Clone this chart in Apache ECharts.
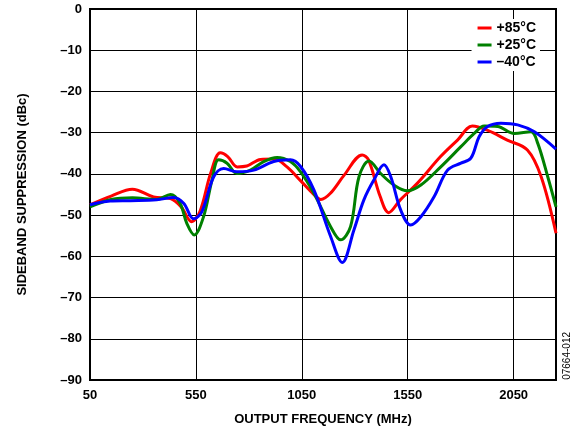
<!DOCTYPE html>
<html>
<head>
<meta charset="utf-8">
<script src="https://cdn.jsdelivr.net/npm/echarts@6/dist/echarts.min.js"></script>
<style>
  html, body { margin: 0; padding: 0; background: #fff; }
  #chart { width: 584px; height: 433px; }
</style>
</head>
<body>
<div id="chart"></div>
<script>
// 数据 (MHz, dBc)
const freq85 = [50, 150, 250, 350, 430, 480, 530, 570, 620, 665, 700, 745, 790, 855, 920, 980, 1045, 1105, 1140, 1185, 1250, 1335, 1365, 1420, 1460, 1515, 1595, 1705, 1785, 1855, 1925, 2020, 2115, 2180, 2250]
const val85 = [-47.5, -45.4, -43.7, -45.6, -46, -48, -51.6, -49, -39.8, -34.9, -35.8, -38.3, -38.1, -36.5, -36.4, -38.3, -41.7, -44.9, -46.2, -44.7, -40.3, -35.4, -36.6, -45.5, -49.4, -46.3, -42.3, -35.8, -31.8, -28.4, -29.4, -31.8, -34.2, -40.7, -54.4]

const freq25 = [50, 150, 250, 365, 430, 475, 507, 542, 586, 626, 657, 697, 744, 807, 870, 933, 996, 1044, 1107, 1186, 1233, 1280, 1320, 1367, 1422, 1485, 1548, 1612, 1706, 1801, 1864, 1911, 1974, 2053, 2132, 2164, 2211, 2250]
const val25 = [-48, -46.2, -45.8, -46.2, -45, -47.1, -52, -54.8, -50.4, -41.5, -36.6, -37.4, -39.9, -39.1, -37, -36, -37, -39.5, -44.7, -52.8, -56, -52.8, -40.7, -36.9, -39.9, -42.7, -44.1, -42.7, -38.3, -33.4, -30.2, -28.4, -28.5, -30.2, -29.8, -32.6, -40.7, -48]

const freqM40 = [50, 145, 240, 365, 444, 492, 539, 578, 634, 681, 744, 823, 917, 996, 1044, 1107, 1186, 1241, 1296, 1343, 1390, 1438, 1470, 1517, 1564, 1612, 1675, 1738, 1801, 1848, 1887, 1927, 1990, 2069, 2148, 2250]
const valM40 = [-47.5, -46.6, -46.5, -46.3, -45.7, -47.1, -50.9, -49.2, -40.7, -38.7, -39.5, -39.1, -37, -36.6, -38.2, -43.9, -55.2, -61.5, -53.6, -46.3, -41.5, -37.8, -40.7, -48.8, -52.4, -50.4, -45.5, -39.1, -37.4, -36.2, -31, -28.5, -27.7, -28.1, -29.8, -34]

const seriesNames = ['+85°C', '+25°C', '\u201340°C']
const seriesColors = ['#ff0000', '#008000', '#0000ff']

const pairs = (xs, ys) => xs.map((x, i) => [x, ys[i]])
const seriesData = [pairs(freq85, val85), pairs(freq25, val25), pairs(freqM40, valM40)]

const chart = echarts.init(document.getElementById('chart'))

const font = 'Liberation Sans, Arial, sans-serif'

let option = {
    animation: false,
    grid: {
        left: 90,
        right: 28,
        top: 9,
        bottom: 53,
        show: true,
        borderColor: '#000',
        borderWidth: 2,
        backgroundColor: 'transparent'
    },
    legend: {
        data: seriesNames,
        orient: 'vertical',
        right: 44,
        top: 19,
        itemWidth: 14,
        itemHeight: 3,
        itemGap: 3,
        icon: 'rect',
        backgroundColor: '#fff',
        padding: [2, 4, 2, 6],
        textStyle: {
            fontFamily: font,
            fontWeight: 'bold',
            fontSize: 14,
            color: '#000'
        }
    },
    xAxis: {
        type: 'value',
        min: 50,
        max: 2250,
        interval: 500,
        name: 'OUTPUT FREQUENCY (MHz)',
        nameLocation: 'middle',
        nameGap: 33,
        nameTextStyle: {fontFamily: font, fontWeight: 'bold', fontSize: 13, color: '#000'},
        axisLine: {show: false},
        axisTick: {show: false},
        axisLabel: {
            showMaxLabel: false,
            margin: 9,
            fontFamily: font,
            fontWeight: 'bold',
            fontSize: 13,
            color: '#000',
            formatter: v => String(v)
        },
        splitLine: {show: true, lineStyle: {color: '#000', width: 1}}
    },
    yAxis: {
        type: 'value',
        min: -90,
        max: 0,
        interval: 10,
        name: 'SIDEBAND SUPPRESSION (dBc)',
        nameLocation: 'middle',
        nameGap: 61,
        nameTextStyle: {fontFamily: font, fontWeight: 'bold', fontSize: 13, color: '#000'},
        axisLine: {show: false},
        axisTick: {show: false},
        axisLabel: {
            margin: 8,
            fontFamily: font,
            fontWeight: 'bold',
            fontSize: 13,
            color: '#000',
            formatter: v => v < 0 ? '\u2013' + Math.abs(v) : String(v)
        },
        splitLine: {show: true, lineStyle: {color: '#000', width: 1}}
    },
    graphic: [{
        type: 'text',
        left: 562,
        top: 332,
        rotation: Math.PI / 2,
        style: {
            text: '07664-012',
            font: '10px ' + font,
            fill: '#000'
        }
    }],
    series: seriesNames.map((name, i) => ({
        name: name,
        type: 'line',
        data: seriesData[i],
        smooth: 0.35,
        showSymbol: false,
        symbol: 'none',
        lineStyle: {color: seriesColors[i], width: 3},
        itemStyle: {color: seriesColors[i]}
    }))
}

option && chart.setOption(option)
</script>
</body>
</html>
